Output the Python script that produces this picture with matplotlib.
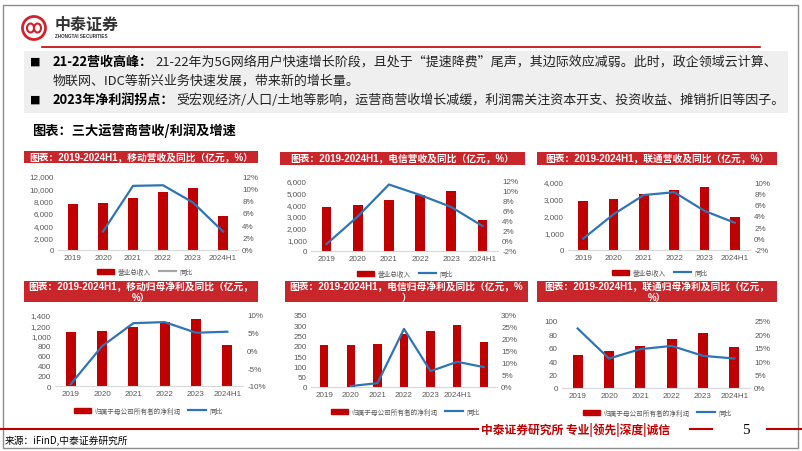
import matplotlib.pyplot as plt
import matplotlib.patches as mpatches
from matplotlib.lines import Line2D
from matplotlib.ticker import FuncFormatter, MultipleLocator
import numpy as np

plt.rcParams['font.family'] = ['Liberation Sans', 'Noto Sans CJK SC']

W, H = 802, 452
RED = '#C00000'
HEAD = '#C9262C'
BLUE = '#2E75B6'
GREY = '#595959'

# ---- data ----
years = ['2019', '2020', '2021', '2022', '2023', '2024H1']
years_ct = ['2019', '2020', '2021', '2022', '2023', '2024H1', '']

cm_rev = [7459, 7681, 8483, 9373, 10093, 5467]
cm_rev_yoy = [np.nan, 3.0, 10.4, 10.5, 7.7, 3.0]
ct_rev = [3740, 3910, 4370, 4770, 5110, 2690]
ct_rev_yoy = [-0.6, 4.9, 11.3, 9.2, 6.8, 3.0]
cu_rev = [2870, 3020, 3280, 3510, 3690, 1970]
cu_rev_yoy = [0.0, 4.3, 7.7, 8.2, 4.9, 2.8]

cm_np = [1066, 1078, 1161, 1254, 1318, 802]
cm_np_yoy = [-9.5, 1.2, 7.7, 8.0, 5.0, 5.3]
ct_np = [204, 204, 207, 260, 274, 302, 218]
ct_np_yoy = [np.nan, 0.4, 1.6, 24.2, 6.6, 10.5, 8.3]
cu_np = [50, 55, 63, 73, 82, 61]
cu_np_yoy = [22.2, 11.0, 14.5, 15.7, 12.0, 11.0]

rev_label = '营业总收入'
np_label = '归属于母公司所有者的净利润'
yoy_label = '同比'

fig = plt.figure(figsize=(W / 100, H / 100), dpi=100)
renderer = fig.canvas.get_renderer()


def fx(x):
    return x / W


def fy(y):
    return 1 - y / H


def rect(x0, y0, x1, y1, **kw):
    fig.patches.append(mpatches.Rectangle((fx(x0), fy(y1)), (x1 - x0) / W, (y1 - y0) / H,
                                          transform=fig.transFigure, **kw))


def hline(x0, x1, y, color=RED, lw=1.5):
    fig.add_artist(Line2D([fx(x0), fx(x1)], [fy(y), fy(y)], color=color, lw=lw,
                          transform=fig.transFigure))


# slide frame
rect(3, 6, 798, 449, fill=False, edgecolor='#8C8C8C', lw=1)

# logo
fig.add_artist(mpatches.Ellipse((fx(34), fy(29)), 23 / W, 23 / H, transform=fig.transFigure,
                                fill=False, edgecolor='#D2232A', lw=2))
fig.add_artist(mpatches.Ellipse((fx(30.5), fy(29)), 7 / W, 9 / H, transform=fig.transFigure,
                                fill=False, edgecolor='#D2232A', lw=1.5))
fig.add_artist(mpatches.Ellipse((fx(37.5), fy(29)), 7 / W, 9 / H, transform=fig.transFigure,
                                fill=False, edgecolor='#D2232A', lw=1.5))
fig.text(fx(55), fy(25), '中泰证券', fontsize=11.5, fontweight='bold', color='#333333',
         va='center', family=['Noto Sans CJK SC'])
fig.text(fx(55), fy(37), 'ZHONGTAI SECURITIES', fontsize=3.3, fontweight='bold', color='#333333',
         va='center')
hline(42, 760, 48, lw=1.2)

# grey text box
rect(24, 52, 788, 114, color='#EFEFEF', lw=0)


def rich_line(x, y, bold, normal, size=9.35):
    t = fig.text(fx(x), fy(y), bold, fontsize=size, fontweight='bold', va='center',
                 family=['Noto Sans CJK SC'], color='black')
    bb = t.get_window_extent(renderer=renderer)
    fig.text(bb.x1 / fig.dpi / fig.get_figwidth() + fx(2), fy(y), normal, fontsize=size,
             va='center', family=['Noto Sans CJK SC'], color='#222222')


fig.text(fx(30), fy(62), '■', fontsize=8, va='center', family=['DejaVu Sans'])
rich_line(53, 62, '21-22营收高峰：',
          '21-22年为5G网络用户快速增长阶段，且处于“提速降费”尾声，其边际效应减弱。此时，政企领域云计算、')
fig.text(fx(53), fy(81), '物联网、IDC等新兴业务快速发展，带来新的增长量。', fontsize=9.35, va='center',
         family=['Noto Sans CJK SC'], color='#222222')
fig.text(fx(30), fy(100), '■', fontsize=8, va='center', family=['DejaVu Sans'])
rich_line(53, 100, '2023年净利润拐点：',
          '受宏观经济/人口/土地等影响，运营商营收增长减缓，利润需关注资本开支、投资收益、摊销折旧等因子。')

fig.text(fx(32), fy(131), '图表：三大运营商营收/利润及增速', fontsize=9.5, fontweight='bold',
         va='center', family=['Noto Sans CJK SC'])


def panel(box, header, axbox, cats, bars, yoy, ylim, ystep, rlim, rstep, leg_xy, bar_label,
          leg_line_color=BLUE):
    x0, y0, x1, y1 = box
    rect(x0, y0, x1, y1, color=HEAD, lw=0)
    fig.text(fx((x0 + x1) / 2), fy((y0 + y1) / 2), header, ha='center', va='center',
             color='white', fontsize=7, fontweight='bold', linespacing=1.0)
    l, r, t, b = axbox
    ax = fig.add_axes([fx(l), fy(b), (r - l) / W, (b - t) / H])
    x = np.arange(len(cats))
    ax.bar(x, bars, width=0.31, color=RED, zorder=2)
    ax.set_xlim(-0.5, len(cats) - 0.5)
    ax.set_ylim(*ylim)
    ax.yaxis.set_major_locator(MultipleLocator(ystep))
    ax.yaxis.set_major_formatter(FuncFormatter(lambda v, p: f'{v:,.0f}'))
    ax.set_xticks(x, cats)
    ax2 = ax.twinx()
    ax2.plot(x, yoy, color=BLUE, lw=1.6, zorder=3)
    ax2.set_ylim(*rlim)
    ax2.yaxis.set_major_locator(MultipleLocator(rstep))
    ax2.yaxis.set_major_formatter(FuncFormatter(lambda v, p: f'{v:.0f}%'))
    for a in (ax, ax2):
        for s in a.spines.values():
            s.set_visible(False)
        a.tick_params(length=0, labelsize=5.8, colors=GREY, pad=3)
        a.patch.set_visible(False)
    ax.spines['bottom'].set_visible(True)
    ax.spines['bottom'].set_color('#D9D9D9')
    ax.spines['bottom'].set_linewidth(0.8)
    handles = [mpatches.Patch(color=RED), Line2D([0], [0], color=leg_line_color, lw=1.6)]
    fig.legend(handles, [bar_label, yoy_label], loc='center',
               bbox_to_anchor=(fx(leg_xy[0]), fy(leg_xy[1])), ncol=2, frameon=False,
               fontsize=4.8, labelcolor=GREY, handlelength=2.6, handleheight=0.8,
               columnspacing=1.2, handletextpad=0.5)


panel((24, 152, 258, 164), '图表：2019-2024H1，移动营收及同比（亿元，%）', (58, 238, 177, 251),
      years, cm_rev, cm_rev_yoy, (0, 12000), 2000, (0, 12), 2, (145, 273), rev_label,
      leg_line_color='#A6A6A6')
panel((280, 153, 525, 166), '图表：2019-2024H1，电信营收及同比（亿元，%）', (311, 498, 182, 252),
      years, ct_rev, ct_rev_yoy, (0, 6000), 1000, (-2, 12), 2, (405, 275), rev_label)
panel((537, 153, 777, 166), '图表：2019-2024H1，联通营收及同比（亿元，%）', (568, 750, 183, 251),
      years, cu_rev, cu_rev_yoy, (0, 4000), 1000, (-2, 10), 2, (660, 274), rev_label)

panel((24, 282, 258, 303), '图表：2019-2024H1，移动归母净利及同比（亿元，\n%）', (55, 243, 316, 387),
      years, cm_np, cm_np_yoy, (0, 1400), 200, (-10, 10), 5, (148, 412), np_label)
panel((285, 282, 528, 303), '图表：2019-2024H1，电信归母净利及同比（亿元，%\n）', (311, 497, 316, 388),
      years_ct, ct_np, ct_np_yoy, (0, 350), 50, (0, 30), 5, (405, 413), np_label)
panel((537, 282, 777, 303), '图表：2019-2024H1，联通归母净利及同比（亿元，\n%）', (562, 750, 322, 389),
      years, cu_np, cu_np_yoy, (0, 100), 20, (0, 25), 5, (657, 414), np_label)

# footer
hline(0, 478, 430)
fig.text(fx(481), fy(430), '中泰证券研究所 专业|领先|深度|诚信', fontsize=8.5, fontweight='bold',
         color=RED, va='center', family=['Noto Sans CJK SC'])
hline(690, 712, 430)
fig.text(fx(742), fy(431), '5', fontsize=11, va='center', family=['Liberation Serif'])
hline(767, 802, 430)
fig.text(fx(5), fy(441), '来源：iFinD,中泰证券研究所', fontsize=7, va='center',
         family=['Noto Sans CJK SC'])

fig.savefig('out.png', dpi=100)
